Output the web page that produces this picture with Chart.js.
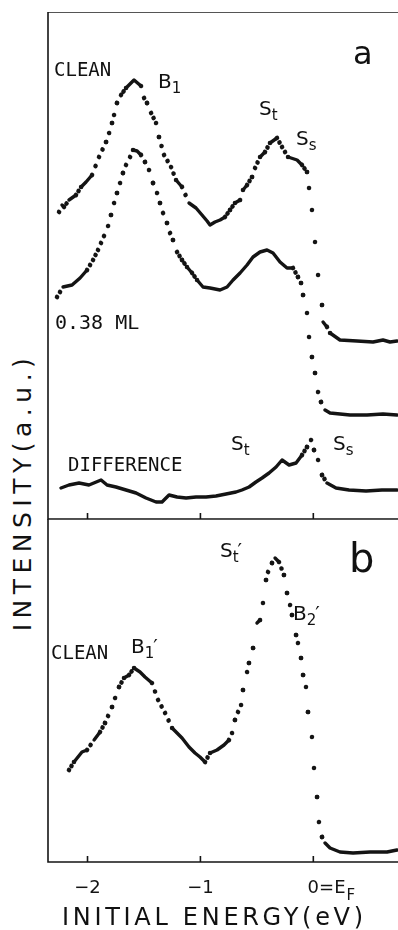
<!DOCTYPE html>
<html>
<head>
<meta charset="utf-8">
<script src="https://cdn.jsdelivr.net/npm/chart.js@4.4.0/dist/chart.umd.min.js"></script>
<style>
html, body { margin: 0; padding: 0; background: #fff; }
body { width: 398px; height: 930px; position: relative; overflow: hidden; font-family: "DejaVu Sans", sans-serif; color: #111; }
canvas { position: absolute; }
#panelA { left: 38px; top: 2px; }
#panelB { left: 38px; top: 509px; }
.t { position: absolute; white-space: nowrap; line-height: 1; }
.m { font-family: "DejaVu Sans Mono", monospace; font-size: 19px; }
.s { font-size: 20px; }
.s sub { font-size: 15px; vertical-align: -5px; line-height: 0; }
.p { margin-left: -1px; }
</style>
</head>
<body>
<canvas id="panelA" width="360" height="527"></canvas>
<canvas id="panelB" width="360" height="421"></canvas>

<div class="t m" style="left:54px;top:60px;">CLEAN</div>
<div class="t s" style="left:158px;top:71px;">B<sub>1</sub></div>
<div class="t s" style="left:259px;top:98px;">S<sub>t</sub></div>
<div class="t s" style="left:296px;top:128px;">S<sub>s</sub></div>
<div class="t" style="left:353px;top:37px;font-size:32px;">a</div>
<div class="t m" style="left:55px;top:312px;font-size:20px;">0.38 ML</div>
<div class="t m" style="left:68px;top:455px;">DIFFERENCE</div>
<div class="t s" style="left:231px;top:433px;">S<sub>t</sub></div>
<div class="t s" style="left:333px;top:433px;">S<sub>s</sub></div>

<div class="t" style="left:349px;top:538px;font-size:40px;">b</div>
<div class="t s" style="left:220px;top:540px;">S<sub>t</sub><span class="p">′</span></div>
<div class="t s" style="left:293px;top:603px;">B<sub>2</sub><span class="p">′</span></div>
<div class="t m" style="left:51px;top:643px;">CLEAN</div>
<div class="t s" style="left:131px;top:636px;">B<sub>1</sub><span class="p">′</span></div>

<div class="t" style="left:22px;top:492px;font-size:25px;letter-spacing:5.5px;transform:translate(-50%,-50%) rotate(-90deg);">INTENSITY(a.u.)</div>
<div class="t" style="left:62px;top:905px;font-size:24px;letter-spacing:3.7px;">INITIAL ENERGY(eV)</div>

<script>
// energy axis (eV), ticks drawn inside the frame
const energyMin = -2.35, energyMax = 0.75;
const energyTicks = [-2, -1, 0];
const tickLabels = ['−2', '−1', '0=E'];
const tickSubs = ['', '', 'F'];

// panel a : clean surface
const cleanE = [-2.252,-2.226,-2.208,-2.164,-2.102,-2.057,-2.013,-1.960,-1.898,-1.836,-1.809,-1.783,-1.765,-1.739,-1.703,-1.659,-1.615,-1.588,-1.526,-1.499,-1.473,-1.437,-1.393,-1.367,-1.322,-1.260,-1.216,-1.163,-1.101,-1.039,-0.986,-0.941,-0.915,-0.871,-0.826,-0.782,-0.738,-0.694,-0.649,-0.623,-0.587,-0.543,-0.516,-0.472,-0.428,-0.384,-0.322,-0.277,-0.224,-0.144,-0.100,-0.056,-0.038,-0.012,0.015,0.042,0.077,0.086,0.121,0.148,0.236,0.387,0.529,0.617,0.679,0.741];
const cleanI = [307,314,312,319,324,332,337,344,362,377,386,396,404,416,424,431,436,439,433,421,416,406,396,382,364,352,339,332,316,311,304,298,294,297,299,302,309,316,319,329,334,342,351,362,367,376,381,372,362,359,354,347,331,309,277,244,214,197,192,186,179,178,177,179,177,178];

// panel a : 0.38 ML
const mlE = [-2.270,-2.217,-2.137,-2.066,-2.004,-1.951,-1.907,-1.854,-1.818,-1.792,-1.765,-1.739,-1.712,-1.686,-1.659,-1.623,-1.597,-1.561,-1.526,-1.491,-1.455,-1.420,-1.384,-1.358,-1.331,-1.296,-1.269,-1.243,-1.207,-1.163,-1.119,-1.074,-1.030,-0.977,-0.915,-0.826,-0.764,-0.711,-0.649,-0.587,-0.534,-0.472,-0.410,-0.357,-0.295,-0.233,-0.180,-0.136,-0.109,-0.091,-0.056,-0.038,-0.012,0.015,0.042,0.068,0.104,0.148,0.325,0.476,0.617,0.741];
const mlI = [222,232,234,241,249,259,269,283,293,304,316,326,336,346,354,362,369,368,364,357,349,336,326,316,306,296,286,279,267,259,252,246,239,232,231,229,232,239,246,254,262,267,269,266,257,251,251,242,236,224,206,182,162,146,127,117,109,106,104,104,105,104];

// panel a : difference
const diffE = [-2.235,-2.164,-2.075,-1.987,-1.880,-1.827,-1.748,-1.659,-1.570,-1.482,-1.393,-1.340,-1.278,-1.207,-1.127,-1.039,-0.950,-0.862,-0.773,-0.685,-0.632,-0.569,-0.508,-0.454,-0.392,-0.330,-0.277,-0.215,-0.153,-0.100,-0.056,-0.020,0.006,0.042,0.077,0.121,0.201,0.316,0.467,0.608,0.741];
const diffI = [31,34,36,34,39,34,32,29,26,21,17,17,24,22,21,22,22,23,25,27,29,32,37,41,46,52,59,54,56,64,72,79,69,59,44,36,31,29,28,29,29];

// panel b : clean
const cleanBE = [-2.164,-2.120,-2.049,-2.004,-1.942,-1.889,-1.845,-1.818,-1.783,-1.756,-1.721,-1.677,-1.632,-1.588,-1.535,-1.491,-1.429,-1.375,-1.313,-1.251,-1.207,-1.163,-1.101,-1.048,-1.004,-0.959,-0.915,-0.853,-0.791,-0.747,-0.720,-0.694,-0.667,-0.640,-0.623,-0.587,-0.570,-0.534,-0.499,-0.472,-0.446,-0.419,-0.401,-0.366,-0.339,-0.304,-0.260,-0.233,-0.206,-0.189,-0.153,-0.136,-0.109,-0.091,-0.065,-0.047,-0.012,0.006,0.033,0.050,0.077,0.104,0.148,0.236,0.352,0.502,0.653,0.741];
const cleanBI = [92,100,110,112,122,130,139,146,155,164,175,184,187,194,190,185,179,162,149,134,129,124,115,109,105,100,109,112,117,122,129,142,150,157,172,190,199,214,239,242,259,282,290,299,304,300,287,269,257,247,227,219,204,187,175,150,125,94,65,40,25,19,14,10,9,10,10,12];

const ink = '#141414';

function pts(es, is) { return es.map((e, i) => ({ x: e, y: is[i] })); }

// spectra were taken at a fixed energy step, so steep parts show single dots
function dashFor(c) {
    const dx = Math.abs(c.p1.x - c.p0.x), dy = Math.abs(c.p1.y - c.p0.y);
    const len = Math.hypot(dx, dy);
    const step = 2.9 * len / Math.max(dx, 0.1);
    if (step < 5) return [];
    const n = Math.max(1, Math.round(len / step));
    return [0.001, len / n - 0.001];
}
function widthFor(c) { return dashFor(c).length ? 4.6 : 3.4; }

function spectrum(es, is) {
    return {
        data: pts(es, is), showLine: true, pointRadius: 0, borderColor: ink,
        borderWidth: 3.4, borderCapStyle: 'round', borderJoinStyle: 'round', tension: 0,
        segment: { borderDash: dashFor, borderWidth: widthFor }
    };
}

const framePlugin = {
    id: 'frame',
    afterDraw(chart, args, opts) {
        const { ctx, chartArea: a } = chart;
        const x = chart.scales.x;
        ctx.save();
        ctx.strokeStyle = '#555'; ctx.lineWidth = 1;
        ctx.beginPath(); ctx.moveTo(a.left, a.top + 0.5); ctx.lineTo(a.right, a.top + 0.5); ctx.stroke();
        ctx.strokeStyle = ink; ctx.lineWidth = 1.6;
        ctx.beginPath();
        ctx.moveTo(a.left, a.top); ctx.lineTo(a.left, a.bottom); ctx.lineTo(a.right, a.bottom);
        energyTicks.forEach(v => {
            const px = x.getPixelForValue(v);
            ctx.moveTo(px, a.bottom); ctx.lineTo(px, a.bottom - 6);
        });
        ctx.stroke();
        if (opts.labels) {
            ctx.fillStyle = ink;
            ctx.textBaseline = 'alphabetic';
            energyTicks.forEach((v, i) => {
                const px = x.getPixelForValue(v);
                ctx.font = '18px "DejaVu Sans"';
                if (tickSubs[i]) {
                    const w0 = ctx.measureText(tickLabels[i][0]).width;
                    const left = px - w0 / 2;
                    ctx.textAlign = 'left';
                    ctx.fillText(tickLabels[i], left, a.bottom + 31);
                    const w = ctx.measureText(tickLabels[i]).width;
                    ctx.font = '15px "DejaVu Sans"';
                    ctx.fillText(tickSubs[i], left + w + 1, a.bottom + 38);
                } else {
                    ctx.textAlign = 'center';
                    ctx.fillText(tickLabels[i], px, a.bottom + 31);
                }
            });
        }
        ctx.restore();
    }
};

function panel(id, datasets, yMax, pad, labels) {
    return new Chart(document.getElementById(id), {
        type: 'scatter',
        data: { datasets },
        options: {
            responsive: false, animation: false, events: [],
            layout: { padding: pad },
            scales: {
                x: { type: 'linear', min: energyMin, max: energyMax, display: false },
                y: { type: 'linear', min: 0, max: yMax, display: false }
            },
            plugins: { legend: { display: false }, tooltip: { enabled: false }, frame: { labels } }
        },
        plugins: [framePlugin]
    });
}

panel('panelA', [spectrum(cleanE, cleanI), spectrum(mlE, mlI), spectrum(diffE, diffI)], 507,
    { left: 10, top: 10, right: 0, bottom: 10 }, false);
panel('panelB', [spectrum(cleanBE, cleanBI)], 343,
    { left: 10, top: 10, right: 0, bottom: 68 }, true);
</script>
</body>
</html>
